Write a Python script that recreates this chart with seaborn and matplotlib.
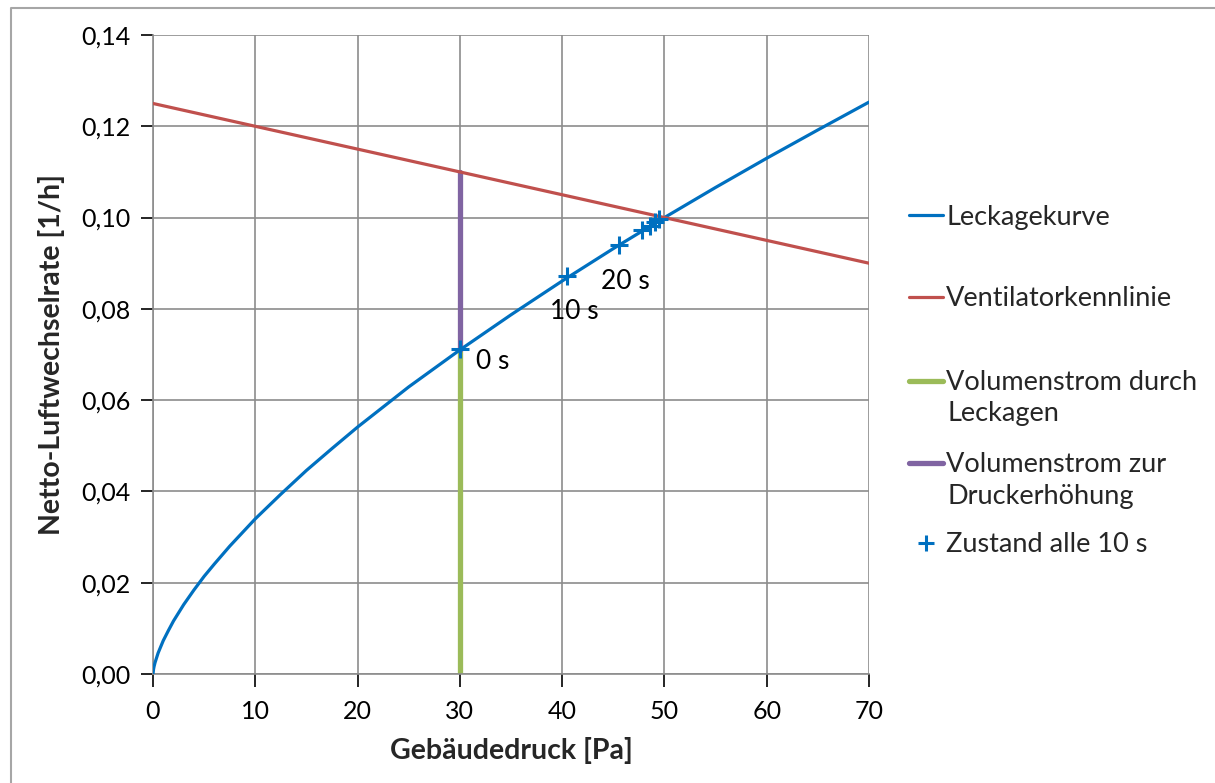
import matplotlib
matplotlib.use("Agg")
import matplotlib.pyplot as plt
import seaborn as sns
import pandas as pd
from matplotlib.lines import Line2D

# ---- data ----
leak_p = [0, 0.05, 0.1, 0.2, 0.5, 1, 1.5, 2, 3, 4, 5, 6, 7.5, 10, 12.5, 15, 17.5, 20, 25, 30,
          35, 40, 45, 50, 55, 60, 65, 70]
leak_q = [0, 0.0010, 0.0016, 0.0025, 0.0046, 0.0073, 0.0095, 0.0116, 0.0152, 0.0184, 0.0214,
          0.0241, 0.0280, 0.0340, 0.0394, 0.0446, 0.0494, 0.0541, 0.0629, 0.0710,
          0.0787, 0.0861, 0.0932, 0.1000, 0.1066, 0.1130, 0.1192, 0.1253]
fan_p = [0, 70]
fan_q = [0.125, 0.090]
green_p = [30, 30]
green_q = [0.0, 0.071]
purple_p = [30, 30]
purple_q = [0.071, 0.110]
state_p = [30.0, 40.5, 45.6, 47.8, 48.6, 49.1, 49.5]
state_q = [0.0712, 0.0872, 0.0940, 0.0973, 0.0982, 0.0990, 0.0997]
state_labels = ["0 s", "10 s", "20 s"]
label_p = [31.6, 38.8, 43.8]
label_q = [0.0685, 0.0795, 0.0861]
x_ticks = [0, 10, 20, 30, 40, 50, 60, 70]
y_ticks = [0.0, 0.02, 0.04, 0.06, 0.08, 0.10, 0.12, 0.14]

legend_names = ["Leckagekurve", "Ventilatorkennlinie", "Volumenstrom durch\nLeckagen",
                "Volumenstrom zur\nDruckerhöhung", "Zustand alle 10 s"]

BLUE = "#0070C0"
RED = "#C0504D"
GREEN = "#9BBB59"
PURPLE = "#8064A2"
GRID = "#8C8C8C"

sns.set_theme(style="white")
plt.rcParams["font.family"] = ["Lato", "DejaVu Sans"]

fig = plt.figure(figsize=(12.15, 7.83), dpi=100)
ax = fig.add_axes([153 / 1215, 1 - 674 / 783, (869 - 153) / 1215, (674 - 35) / 783])

sns.lineplot(data=pd.DataFrame({"p": leak_p, "q": leak_q}), x="p", y="q", ax=ax,
             color=BLUE, linewidth=2.3, zorder=3, sort=False)
sns.lineplot(data=pd.DataFrame({"p": fan_p, "q": fan_q}), x="p", y="q", ax=ax,
             color=RED, linewidth=2.3, zorder=3)
sns.lineplot(data=pd.DataFrame({"p": green_p, "q": green_q}), x="p", y="q", ax=ax,
             color=GREEN, linewidth=3.8, zorder=2, sort=False, estimator=None)
sns.lineplot(data=pd.DataFrame({"p": purple_p, "q": purple_q}), x="p", y="q", ax=ax,
             color=PURPLE, linewidth=3.8, zorder=2, sort=False, estimator=None)
sns.scatterplot(x=state_p, y=state_q, ax=ax, marker="+", s=180, color=BLUE,
                linewidth=2.2, zorder=4)

for t, px, py in zip(state_labels, label_p, label_q):
    ax.text(px, py, t, fontsize=19, ha="left", va="center", color="black")

ax.set_xlim(0, 70)
ax.set_ylim(0, 0.14)
ax.set_xticks(x_ticks)
ax.set_yticks(y_ticks)
ax.set_xticklabels([str(v) for v in x_ticks])
ax.set_yticklabels([f"{v:.2f}".replace(".", ",") for v in y_ticks])
ax.tick_params(axis="both", labelsize=18, colors="black", length=9, width=1.2,
               direction="out", bottom=True, left=True)
ax.tick_params(axis="x", pad=10)
ax.tick_params(axis="y", pad=7)
for t in ax.get_xticklines() + ax.get_yticklines():
    t.set_color(GRID)
ax.grid(True, color=GRID, linewidth=1.2)
for s in ["top", "right"]:
    ax.spines[s].set_visible(False)
for s in ["left", "bottom"]:
    ax.spines[s].set_color(GRID)
    ax.spines[s].set_linewidth(1.2)
ax.set_xlabel("Gebäudedruck [Pa]", fontsize=20.5, fontweight="bold", labelpad=10)
ax.set_ylabel("Netto-Luftwechselrate [1/h]", fontsize=20.5, fontweight="bold", labelpad=12)

# ---- legend (one small legend per entry to follow the reference spacing) ----
handles = [
    Line2D([], [], color=BLUE, linewidth=2.3),
    Line2D([], [], color=RED, linewidth=2.3),
    Line2D([], [], color=GREEN, linewidth=3.8),
    Line2D([], [], color=PURPLE, linewidth=3.8),
    Line2D([], [], color=BLUE, marker="+", linestyle="none", markersize=12, markeredgewidth=2.2),
]
entry_y = [217, 299, 383, 465, 545]
for h, name, yy in zip(handles, legend_names, entry_y):
    first, *rest = name.split("\n")
    fig.legend(handles=[h], labels=[first], loc="center left",
               bbox_to_anchor=(909 / 1215, 1 - yy / 783), frameon=False,
               fontsize=19.5, handlelength=1.25, handletextpad=0.12,
               borderpad=0, borderaxespad=0)
    for k, line in enumerate(rest):
        fig.text(947 / 1215, 1 - (yy + 31 * (k + 1)) / 783, line, fontsize=19.5,
                 ha="left", va="center")

# light frame (top and left edges visible in the reference)
fig.add_artist(Line2D([11 / 1215, 11 / 1215, 1.0], [0.0, 1 - 8 / 783, 1 - 8 / 783],
                      transform=fig.transFigure, color="#A6A6A6", linewidth=1.5))

fig.savefig("out.png", dpi=100)
